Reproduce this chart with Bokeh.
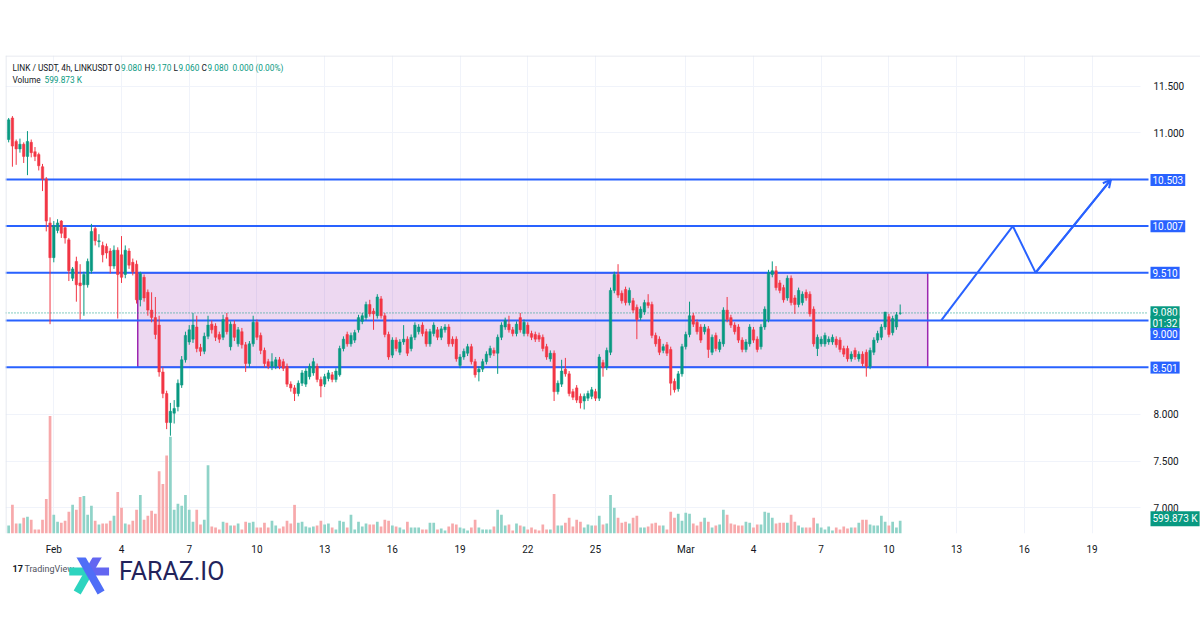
from bokeh.plotting import figure
from bokeh.models import (Range1d, FixedTicker, Span, Label, Arrow, OpenHead,
                          ColumnDataSource)
from bokeh.layouts import column
from bokeh.embed import file_html
from bokeh.resources import INLINE
from bokeh.core.properties import value

# ---------------- data (LINK/USDT 4h) ----------------
opens = [10.93,11.16,10.91,10.83,10.88,10.75,10.90,10.80,10.77,10.64,
         10.51,10.04,9.67,9.96,10.06,9.99,9.86,9.45,9.63,9.40,
         9.38,9.38,9.53,9.98,9.84,9.80,9.79,9.74,9.58,9.75,
         9.70,9.49,9.74,9.62,9.60,9.22,9.46,9.30,9.11,9.03,
         8.95,8.45,8.22,7.91,8.01,8.08,8.31,8.58,8.77,8.80,
         8.93,8.71,8.67,8.83,8.96,8.94,8.85,8.82,9.03,8.72,
         8.96,8.75,8.88,8.74,8.54,8.75,8.98,8.84,8.68,8.56,
         8.51,8.51,8.58,8.56,8.51,8.32,8.28,8.22,8.33,8.32,
         8.40,8.44,8.51,8.37,8.32,8.38,8.42,8.37,8.42,8.70,
         8.85,8.75,8.79,8.90,8.99,9.03,9.17,9.10,9.05,9.23,
         9.05,8.85,8.63,8.79,8.66,8.77,8.80,8.70,8.82,8.88,
         8.95,8.88,8.75,8.86,8.90,8.82,8.90,8.93,8.80,8.80,
         8.52,8.61,8.65,8.72,8.56,8.45,8.48,8.56,8.63,8.68,
         8.65,8.82,8.93,8.96,8.90,8.86,9.03,8.86,8.95,8.86,
         8.85,8.84,8.82,8.72,8.59,8.65,8.24,8.32,8.48,8.43,
         8.24,8.28,8.19,8.14,8.17,8.19,8.24,8.17,8.55,8.50,
         8.66,9.32,9.49,9.29,9.33,9.19,9.21,9.14,9.03,9.09,
         9.19,9.17,8.84,8.80,8.68,8.74,8.69,8.35,8.27,8.43,
         8.72,8.85,9.05,8.98,8.93,8.88,8.91,8.66,8.84,8.69,
         8.75,9.11,9.03,8.95,8.93,8.79,8.69,8.75,8.90,8.80,
         8.72,8.93,9.01,9.49,9.53,9.40,9.35,9.24,9.45,9.24,
         9.17,9.19,9.30,9.28,9.12,8.70,8.75,8.75,8.77,8.77,
         8.80,8.79,8.70,8.70,8.59,8.68,8.59,8.64,8.66,8.51,
         8.66,8.79,8.82,8.93,9.04,8.87,8.93,9.08]
highs = [11.16,11.18,10.93,10.94,10.90,11.02,10.93,10.85,10.79,10.67,
         10.53,10.10,10.06,10.08,10.07,10.00,9.88,9.57,9.68,9.60,
         9.52,9.66,10.03,10.00,9.92,9.84,9.82,9.77,9.80,9.78,
         9.90,9.80,9.77,9.66,9.64,9.52,9.49,9.33,9.30,9.25,
         9.05,8.50,8.25,8.12,8.15,8.37,8.62,8.88,8.95,9.08,
         9.05,8.75,8.87,9.05,9.00,8.97,8.88,9.06,9.08,8.99,
         9.00,8.93,8.92,8.77,8.78,9.05,9.01,8.87,8.71,8.59,
         8.65,8.61,8.61,8.59,8.54,8.35,8.31,8.36,8.47,8.49,
         8.54,8.60,8.54,8.40,8.43,8.47,8.45,8.49,8.73,8.83,
         8.88,8.87,8.90,9.06,9.08,9.20,9.22,9.13,9.28,9.26,
         9.08,8.88,8.82,8.82,8.80,8.95,8.83,8.85,8.98,8.96,
         8.98,8.91,8.91,8.98,8.93,8.94,8.96,8.96,8.83,8.83,
         8.64,8.70,8.75,8.75,8.59,8.51,8.59,8.67,8.73,8.71,
         8.85,8.98,9.03,9.05,8.93,8.99,9.08,9.01,8.98,8.89,
         8.88,8.87,8.85,8.75,8.68,8.68,8.36,8.58,8.60,8.46,
         8.27,8.31,8.22,8.22,8.25,8.29,8.27,8.64,8.58,8.71,
         9.35,9.52,9.60,9.32,9.36,9.35,9.24,9.17,9.15,9.22,
         9.28,9.20,8.87,8.83,8.75,8.77,8.72,8.38,8.46,8.75,
         8.88,9.20,9.08,9.01,8.96,8.96,8.94,8.85,8.87,8.80,
         9.14,9.25,9.06,8.98,8.96,8.82,8.80,8.96,8.93,8.83,
         8.96,9.15,9.54,9.63,9.58,9.43,9.38,9.48,9.48,9.27,
         9.35,9.31,9.33,9.31,9.15,8.85,8.83,8.87,8.83,8.85,
         8.83,8.82,8.73,8.73,8.67,8.71,8.67,8.67,8.69,8.71,
         8.82,8.89,8.96,9.09,9.07,9.05,9.09,9.17]
lows = [10.90,10.64,10.66,10.79,10.68,10.55,10.74,10.70,10.60,10.38,
        9.95,8.96,9.62,9.93,9.88,9.82,9.42,9.42,9.20,9.01,
        9.05,9.35,9.50,9.80,9.78,9.62,9.66,9.50,9.55,9.02,
        9.40,9.45,9.55,9.48,9.18,9.15,9.20,9.05,8.98,8.80,
        8.40,8.17,7.84,7.77,7.90,8.03,8.28,8.55,8.74,8.76,
        8.66,8.62,8.64,8.80,8.86,8.78,8.76,8.79,8.85,8.68,
        8.78,8.72,8.70,8.45,8.50,8.72,8.79,8.64,8.50,8.48,
        8.47,8.48,8.48,8.46,8.29,8.24,8.14,8.19,8.30,8.29,
        8.37,8.41,8.34,8.18,8.29,8.35,8.34,8.34,8.40,8.67,
        8.72,8.72,8.76,8.87,8.96,9.00,9.04,8.90,9.02,9.02,
        8.82,8.58,8.60,8.67,8.63,8.74,8.62,8.67,8.79,8.85,
        8.83,8.72,8.72,8.83,8.79,8.79,8.87,8.72,8.72,8.56,
        8.49,8.58,8.62,8.53,8.39,8.35,8.45,8.53,8.60,8.62,
        8.43,8.79,8.90,8.87,8.83,8.83,8.87,8.83,8.83,8.79,
        8.77,8.77,8.67,8.58,8.56,8.14,8.21,8.29,8.40,8.19,
        8.15,8.12,8.06,8.05,8.14,8.16,8.14,8.14,8.40,8.47,
        8.63,9.29,9.24,9.18,9.16,9.16,9.08,8.80,9.00,9.06,
        9.13,8.81,8.72,8.63,8.65,8.62,8.20,8.23,8.24,8.40,
        8.69,8.82,8.93,8.85,8.76,8.85,8.60,8.63,8.67,8.66,
        8.72,8.98,8.92,8.85,8.76,8.66,8.66,8.72,8.76,8.66,
        8.69,8.90,8.98,9.46,9.32,9.29,9.19,9.21,9.16,9.07,
        9.14,9.16,9.21,9.04,8.72,8.62,8.72,8.72,8.74,8.74,
        8.71,8.66,8.61,8.56,8.56,8.58,8.56,8.51,8.40,8.48,
        8.63,8.76,8.79,8.90,8.82,8.84,8.90,9.06]
closes = [11.14,10.86,10.83,10.88,10.75,10.91,10.79,10.75,10.65,10.51,
          10.06,9.67,10.01,10.04,9.93,9.88,9.53,9.55,9.38,9.37,
          9.49,9.63,9.95,9.85,9.85,9.70,9.72,9.58,9.75,9.49,
          9.46,9.75,9.59,9.52,9.22,9.50,9.24,9.11,9.03,8.85,
          8.45,8.22,7.91,8.03,8.06,8.33,8.58,8.84,8.90,8.95,
          8.70,8.67,8.83,8.95,8.90,8.82,8.80,9.01,8.88,8.96,
          8.82,8.90,8.74,8.54,8.75,8.98,8.82,8.68,8.54,8.51,
          8.56,8.58,8.51,8.49,8.32,8.28,8.22,8.33,8.44,8.46,
          8.51,8.56,8.37,8.30,8.40,8.44,8.37,8.46,8.70,8.80,
          8.75,8.84,8.87,9.03,9.05,9.17,9.07,9.07,9.25,9.05,
          8.85,8.61,8.79,8.70,8.77,8.80,8.65,8.82,8.95,8.93,
          8.86,8.75,8.88,8.95,8.82,8.91,8.93,8.75,8.75,8.59,
          8.61,8.67,8.72,8.56,8.42,8.48,8.56,8.64,8.70,8.65,
          8.82,8.95,9.00,8.90,8.86,8.96,8.90,8.98,8.86,8.82,
          8.80,8.80,8.70,8.61,8.65,8.24,8.33,8.46,8.43,8.22,
          8.18,8.15,8.12,8.19,8.22,8.26,8.17,8.61,8.50,8.68,
          9.32,9.49,9.27,9.21,9.19,9.32,9.11,9.01,9.12,9.19,
          9.16,8.84,8.75,8.66,8.72,8.65,8.33,8.26,8.43,8.72,
          8.85,9.05,8.96,8.88,8.79,8.93,8.69,8.82,8.70,8.77,
          9.11,9.01,8.95,8.88,8.79,8.69,8.77,8.93,8.79,8.69,
          8.93,9.12,9.51,9.53,9.35,9.32,9.22,9.45,9.19,9.17,
          9.32,9.28,9.24,9.07,8.75,8.82,8.80,8.84,8.80,8.82,
          8.74,8.69,8.64,8.59,8.64,8.61,8.64,8.54,8.51,8.68,
          8.79,8.86,8.93,9.09,8.85,9.02,9.06,9.08]
volume_k = [369,1338,462,462,738,785,646,185,185,646,
            1615,5492,877,554,508,600,1015,1338,1108,1708,
            1754,877,1292,600,415,462,462,600,831,1938,
            1200,462,415,600,1108,1800,646,831,1062,923,
            2908,2308,3646,4523,1108,1385,1292,1800,1108,554,
            1108,415,646,3185,323,277,185,554,508,369,
            369,462,185,554,508,554,277,277,508,277,
            600,369,231,323,600,462,1338,508,554,323,
            277,323,369,600,415,462,277,185,600,554,
            277,877,185,554,323,462,415,415,554,323,
            646,600,369,323,277,185,554,277,277,277,
            185,185,508,508,185,231,138,323,462,415,
            277,231,138,277,646,277,185,185,185,323,
            1108,877,369,415,138,462,369,323,185,277,
            185,138,415,185,185,1846,369,369,508,738,
            323,646,554,277,415,369,369,831,415,462,
            1800,1200,738,508,554,462,738,831,277,277,
            323,462,508,369,369,185,1015,738,923,600,
            969,923,462,369,554,738,554,277,369,415,
            1108,877,462,415,369,369,554,508,277,415,
            415,1015,969,738,462,508,508,508,877,554,
            369,277,277,277,738,462,277,185,323,138,
            277,185,323,231,277,277,508,646,646,415,
            369,369,831,554,369,554,277,599.873]

x_tick_days = [0, 3, 6, 9, 12, 15, 18, 21, 24, 28, 31, 34, 37, 40, 43, 46]
x_tick_labels = ["Feb", "4", "7", "10", "13", "16", "19", "22", "25",
                 "Mar", "4", "7", "10", "13", "16", "19"]
y_tick_values = [7.0, 7.5, 8.0, 11.0, 11.5]
y_tick_labels = ["7.000", "7.500", "8.000", "11.000", "11.500"]
y_grid_ticks = [7.0, 7.5, 8.0, 8.5, 9.0, 9.5, 10.0, 10.5, 11.0, 11.5]

levels = [10.503, 10.007, 9.510, 9.000, 8.501]
level_tags = ["10.503", "10.007", "9.510", "9.000", "8.501"]
range_box = dict(start_day=3.72, end_day=38.72, low=8.501, high=9.510)
proj_days = [39.32, 42.49, 43.50, 46.84]
proj_prices = [9.000, 10.007, 9.510, 10.503]
last_price = 9.080
last_volume_tag = "599.873 K"
countdown = "01:32"

# ---------------- styling ----------------
UP, DOWN = "#089981", "#f23645"
VUP, VDOWN = "#8fd3c8", "#f7a9ab"
BLUE = "#2962ff"
PURPLE = "#9c27b0"
TXT = "#131722"
FONT = "Roboto"

PX_FEB = 53.3      # pixel of Feb 1
PX_DAY = 22.57     # pixels per day
PX_P11 = 86.0      # pixel of 11.5
PX_UNIT = 94.9     # pixels per 1.0 price


def px_day(px):
    return (px - PX_FEB) / PX_DAY


def py_price(py):
    return 11.5 - (py - PX_P11) / PX_UNIT


n = len(closes)
days = [-2 + i / 6 for i in range(n)]
is_up = [c >= o for o, c in zip(opens, closes)]
src = ColumnDataSource(dict(
    day=days, open=opens, high=highs, low=lows, close=closes,
    top=[max(o, c) for o, c in zip(opens, closes)],
    bottom=[min(o, c) - (0.004 if o == c else 0) for o, c in zip(opens, closes)],
    color=[UP if u else DOWN for u in is_up],
    vcolor=[VUP if u else VDOWN for u in is_up],
    vol=volume_k,
))

X0, X1 = px_day(5), px_day(1200)
AX = px_day(1140)          # start of price-scale column
TAGX = px_day(1148)        # left edge of price tags

p = figure(width=1200, height=557, output_backend="svg", toolbar_location=None,
           x_range=Range1d(X0, X1),
           y_range=Range1d(py_price(539), py_price(55)),
           y_axis_location=None,
           min_border_left=5, min_border_right=0, min_border_top=55,
           min_border_bottom=18)
p.outline_line_color = None
p.background_fill_color = "white"
p.border_fill_color = "white"

# grid
p.xgrid.ticker = FixedTicker(ticks=x_tick_days)
p.ygrid.ticker = FixedTicker(ticks=y_grid_ticks)
p.xgrid.grid_line_color = "#f0f3fa"
p.ygrid.grid_line_color = "#f0f3fa"

# time axis
p.xaxis.ticker = FixedTicker(ticks=x_tick_days)
p.xaxis.major_label_overrides = {d: t for d, t in zip(x_tick_days, x_tick_labels)}
p.xaxis.axis_line_color = None
p.xaxis.major_tick_line_color = None
p.xaxis.minor_tick_line_color = None
p.xaxis.major_label_text_font = FONT
p.xaxis.major_label_text_font_size = "10px"
p.xaxis.major_label_text_color = TXT
p.xaxis.major_label_standoff = 4

# price-scale column (white background, tick labels)
p.quad(left=AX, right=X1, bottom=py_price(539), top=py_price(55),
       fill_color="white", line_color=None)
p.text(x=[px_day(1153)] * len(y_tick_values), y=y_tick_values, text=y_tick_labels,
       text_font=value(FONT), text_font_size="10px", text_color=TXT,
       text_baseline="middle", text_align="left")

# pane border lines
p.add_layout(Span(location=py_price(55.5), dimension="width",
                  line_color="#e0e3eb", line_width=1))
p.add_layout(Span(location=px_day(5.5), dimension="height",
                  line_color="#e0e3eb", line_width=1))

# volume
p.extra_y_ranges = {"vol": Range1d(0, 599.873 / 13 * 484)}
p.vbar(x="day", width=0.12, top="vol", bottom=0, y_range_name="vol",
       fill_color="vcolor", line_color=None, source=src)

# range box
p.quad(left=range_box["start_day"], right=range_box["end_day"],
       bottom=range_box["low"], top=range_box["high"],
       fill_color=PURPLE, fill_alpha=0.18, line_color=PURPLE, line_width=1.5)

# horizontal levels
p.segment(x0=[X0] * len(levels), y0=levels, x1=[TAGX] * len(levels), y1=levels,
          line_color=BLUE, line_width=2)

# last price dotted line
p.segment(x0=[X0], y0=[last_price], x1=[TAGX], y1=[last_price],
          line_color=UP, line_width=1, line_dash="1 2")

# candles
p.segment(x0="day", y0="low", x1="day", y1="high", line_color="color",
          line_width=1, source=src)
p.vbar(x="day", width=0.11, top="top", bottom="bottom", fill_color="color",
       line_color="color", line_width=0.5, source=src)

# projected path
p.line(proj_days, proj_prices, line_color=BLUE, line_width=2)
p.add_layout(Arrow(end=OpenHead(size=8, line_color=BLUE, line_width=2),
                   x_start=proj_days[-2], y_start=proj_prices[-2],
                   x_end=proj_days[-1], y_end=proj_prices[-1],
                   line_color=BLUE, line_width=2))

# header legend
y1 = py_price(67.5)
y2 = py_price(79.5)
header = [
    (12, y1, "LINK / USDT, 4h, LINKUSDT", TXT),
    (114, y1, "O", TXT), (120.5, y1, "9.080", UP),
    (144, y1, "H", TXT), (150, y1, "9.170", UP),
    (173, y1, "L", TXT), (178, y1, "9.060", UP),
    (201, y1, "C", TXT), (207, y1, "9.080", UP),
    (232, y1, "0.000 (0.00%)", UP),
    (12, y2, "Volume", TXT), (44, y2, "599.873 K", UP),
]
for px, yy, t, col in header:
    p.add_layout(Label(x=px_day(px), y=yy, text=t, text_color=col,
                       text_font=FONT, text_font_size="8.3px",
                       text_baseline="middle", text_align="left"))


def tag(py, text, bg):
    p.add_layout(Label(x=px_day(1150), y=py_price(py), text=text, text_color="white",
                       text_font=FONT, text_font_size="10px",
                       text_baseline="middle", text_align="left",
                       background_fill_color=bg, background_fill_alpha=1.0,
                       padding=2))


tag(181, level_tags[0], BLUE)
tag(228, level_tags[1], BLUE)
tag(275, level_tags[2], BLUE)
tag(315, f"{last_price:.3f}", UP)
tag(326, countdown, UP)
tag(337, level_tags[3], BLUE)
tag(371, level_tags[4], BLUE)
tag(524, last_volume_tag, UP)

# ---------------- footer with logos ----------------
f = figure(width=1200, height=73, output_backend="svg", toolbar_location=None,
           x_range=Range1d(0, 1200), y_range=Range1d(630, 557), min_border=0)
f.axis.visible = False
f.grid.visible = False
f.outline_line_color = None
f.text(x=[7], y=[568], text=["17"], text_font=value(FONT), text_font_size="9px",
       text_color=TXT, text_baseline="middle", text_font_style="bold")
f.text(x=[19], y=[568], text=["TradingView"], text_font=value(FONT),
       text_font_size="9px", text_color="#50535e", text_baseline="middle")
# asterisk mark
f.segment(x0=[64], y0=[571], x1=[84], y1=[571], line_color="#2dd4bf", line_width=8)
f.segment(x0=[84], y0=[571], x1=[104], y1=[571], line_color="#6366f1", line_width=8)
f.segment(x0=[72], y0=[592], x1=[84], y1=[571], line_color="#2dd4bf", line_width=8)
f.segment(x0=[84], y0=[571], x1=[96], y1=[550], line_color="#6366f1", line_width=8)
f.segment(x0=[72], y0=[550], x1=[96], y1=[592], line_color="#4f6ef7", line_width=8)
f.text(x=[114], y=[571], text=["FARAZ.IO"], text_font=value(FONT),
       text_font_size="25px", text_color="#23235b", text_baseline="middle")

layout = column(p, f, spacing=0)
open("out.html", "w").write(file_html(layout, INLINE))
